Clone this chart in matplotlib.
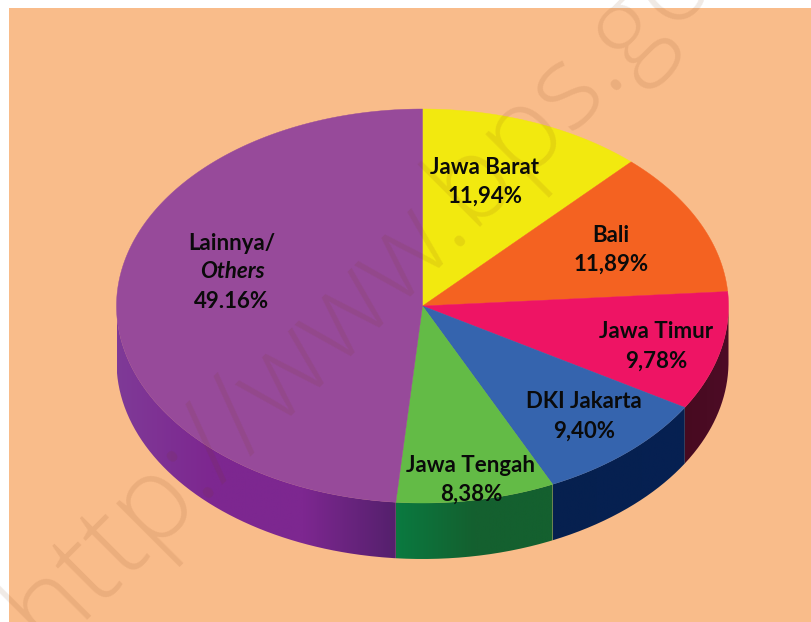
import numpy as np
import matplotlib
matplotlib.use("Agg")
from matplotlib import pyplot as plt
from matplotlib.colors import LinearSegmentedColormap
from matplotlib.patches import Rectangle, PathPatch
from matplotlib.path import Path

# data
names = ["Jawa Barat", "Bali", "Jawa Timur", "DKI Jakarta", "Jawa Tengah", "Lainnya/"]
shares = [11.94, 11.89, 9.78, 9.40, 8.38, 49.16]
share_labels = ["11,94%", "11,89%", "9,78%", "9,40%", "8,38%", "49.16%"]

top_colors = ["#f2e90f", "#f46221", "#ee1464", "#3564ae", "#63bb46", "#974a9a"]
wall_colors = [None, None,
               ["#470a20", "#4d0c26"],
               ["#06204f", "#062052"],
               ["#0a7a40", "#14602f", "#14602f"],
               ["#7f3a97", "#7d2790", "#7d2790", "#54206c"]]
label_pos = [(485, 167), (611, 235), (656, 332), (584, 402), (471, 465), (232, 243)]

W, H = 811, 622
cx, cy, rx, ry, depth = 422.5, 306, 306, 197, 56
bg = "#f9bc8a"
plt.rcParams["font.family"] = ["Lato", "DejaVu Sans"]

fig = plt.figure(figsize=(W / 100, H / 100), dpi=100, facecolor="white")
ax = fig.add_axes([0, 0, 1, 1])
ax.set_xlim(0, W)
ax.set_ylim(H, 0)
ax.set_axis_off()
panel = Rectangle((9, 8), W, H, fc=bg, ec="none", zorder=0)
ax.add_patch(panel)


def rim(a0, a1):
    # angle measured clockwise from the top of the ellipse
    t = np.radians(np.linspace(a0, a1, 200))
    return cx + rx * np.sin(t), cy - ry * np.cos(t)


edges = np.concatenate([[0], np.cumsum(shares)]) * 3.6
edges[-1] = 360

# walls first, only the front half of the cake shows
for i in range(len(shares)):
    if wall_colors[i] is None:
        continue
    a0 = max(edges[i], 90)
    a1 = min(edges[i + 1], 270)
    x, y = rim(a0, a1)
    px = np.concatenate([x, x[::-1]])
    py = np.concatenate([y, y[::-1] + depth])
    clip = PathPatch(Path(np.column_stack([px, py])), fc="none", ec="none", transform=ax.transData)
    ax.add_patch(clip)
    cmap = LinearSegmentedColormap.from_list("w%d" % i, wall_colors[i])
    lo, hi = min(x), max(x)
    im = ax.imshow(np.linspace(0, 1, 256)[None, :], extent=[lo, hi, cy + ry + depth + 2, cy - 5],
                   cmap=cmap, aspect="auto", zorder=1)
    im.set_clip_path(clip)
ax.set_xlim(0, W)
ax.set_ylim(H, 0)

# top face
for i in range(len(shares)):
    x, y = rim(edges[i], edges[i + 1])
    ax.fill(np.r_[cx, x], np.r_[cy, y], fc=top_colors[i], ec=top_colors[i], lw=0.3, zorder=2)

# watermark
wm = ax.text(47, 650, "http://www.bps.go", fontsize=84, family="Open Sans", fontweight="light", rotation=45,
             rotation_mode="anchor", ha="left", va="baseline", color="#7a3b10", alpha=0.11, zorder=3)
wm.set_clip_path(panel)

# labels
for i in range(len(names)):
    lx, ly = label_pos[i]
    ax.text(lx, ly, names[i], fontsize=16, fontweight="bold", ha="center", va="center", color="#0a0a0a", zorder=4)
    if names[i] == "Lainnya/":
        ax.text(lx, ly + 29, "Others", fontsize=16, style="italic", fontweight="bold", ha="center", va="center",
                color="#0a0a0a", zorder=4)
        ly += 29
    ax.text(lx, ly + 29.5, share_labels[i], fontsize=16, fontweight="bold", ha="center", va="center",
            color="#0a0a0a", zorder=4)

fig.savefig("out.png", dpi=100)
